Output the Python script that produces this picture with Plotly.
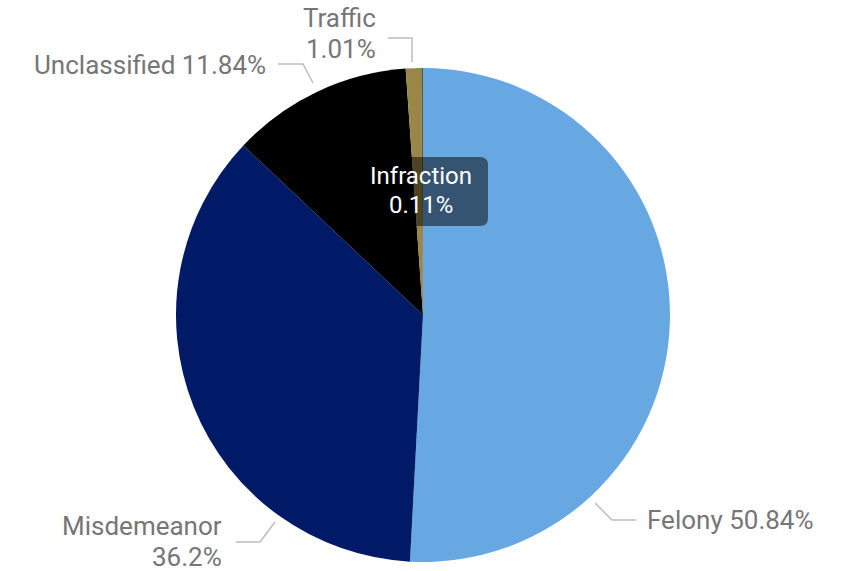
import plotly.graph_objects as go

categories = ["Felony", "Misdemeanor", "Unclassified", "Traffic", "Infraction"]
shares = [50.84, 36.2, 11.84, 1.01, 0.11]
slice_colors = ["#68A8E2", "#001A68", "#000000", "#9A8646", "#5E5A2A"]

W, H = 856, 571
cx, cy, R = 423, 315, 247

def px(x):
    return x / W

def py(y):
    return 1 - y / H

fig = go.Figure(go.Pie(
    labels=categories,
    values=shares,
    sort=False,
    direction="clockwise",
    rotation=0,
    marker=dict(colors=slice_colors, line=dict(width=0)),
    textinfo="none",
    hoverinfo="label+percent",
    showlegend=False,
    domain=dict(x=[px(cx - R), px(cx + R)], y=[py(cy + R), py(cy - R)]),
))

def fmt(v):
    return f"{v:g}%"

grey = "#767676"
font_family = "Roboto, 'Noto Sans', sans-serif"
FS = 26

# label layout: list of text lines (text, x, y), xanchor, leader polyline in px
label_layout = [
    ([(f"{categories[0]} {fmt(shares[0])}", 645, 520)], "left",
     [(595, 503), (612, 520), (636, 520)]),
    ([(categories[1], 224, 526), (fmt(shares[1]), 224, 557)], "right",
     [(275, 522), (260, 542), (236, 542)]),
    ([(f"{categories[2]} {fmt(shares[2])}", 268, 65)], "right",
     [(313, 83), (303, 64), (278, 64)]),
    ([(categories[3], 378, 18), (fmt(shares[3]), 378, 49)], "right",
     [(412, 62), (412, 38), (388, 38)]),
]

annotations = []
shapes = []
for lines, xa, pts in label_layout:
    for txt, x, y in lines:
        annotations.append(dict(
            text=txt, x=px(x), y=py(y), xref="paper", yref="paper",
            xanchor=xa, yanchor="middle", showarrow=False, height=28,
            valign="middle",
            font=dict(family=font_family, size=FS, color=grey),
        ))
    path = "M " + " L ".join(f"{px(a)},{py(b)}" for a, b in pts)
    shapes.append(dict(type="path", path=path, xref="paper", yref="paper",
                       line=dict(color="#BDBDBD", width=1.5)))

# Infraction label box (rounded rect) + two text lines
x0, x1, y0, y1, r = 354, 488, 157, 226, 8
box = (f"M {px(x0 + r)},{py(y0)} L {px(x1 - r)},{py(y0)} "
       f"Q {px(x1)},{py(y0)} {px(x1)},{py(y0 + r)} L {px(x1)},{py(y1 - r)} "
       f"Q {px(x1)},{py(y1)} {px(x1 - r)},{py(y1)} L {px(x0 + r)},{py(y1)} "
       f"Q {px(x0)},{py(y1)} {px(x0)},{py(y1 - r)} L {px(x0)},{py(y0 + r)} "
       f"Q {px(x0)},{py(y0)} {px(x0 + r)},{py(y0)} Z")
shapes.append(dict(type="path", path=box, xref="paper", yref="paper",
                   fillcolor="rgba(0,0,0,0.5)", line=dict(width=0)))
for txt, y in [(categories[4], 176), (fmt(shares[4]), 205)]:
    annotations.append(dict(
        text=txt, x=px(421), y=py(y), xref="paper", yref="paper",
        xanchor="center", yanchor="middle", showarrow=False, height=26,
        valign="middle",
        font=dict(family=font_family, size=24, color="white"),
    ))

fig.update_layout(
    width=W, height=H,
    margin=dict(l=0, r=0, t=0, b=0),
    paper_bgcolor="white",
    plot_bgcolor="white",
    annotations=annotations,
    shapes=shapes,
)

fig.write_html("out.html", config={"displayModeBar": False},
               post_script="document.body.style.margin='0';")
